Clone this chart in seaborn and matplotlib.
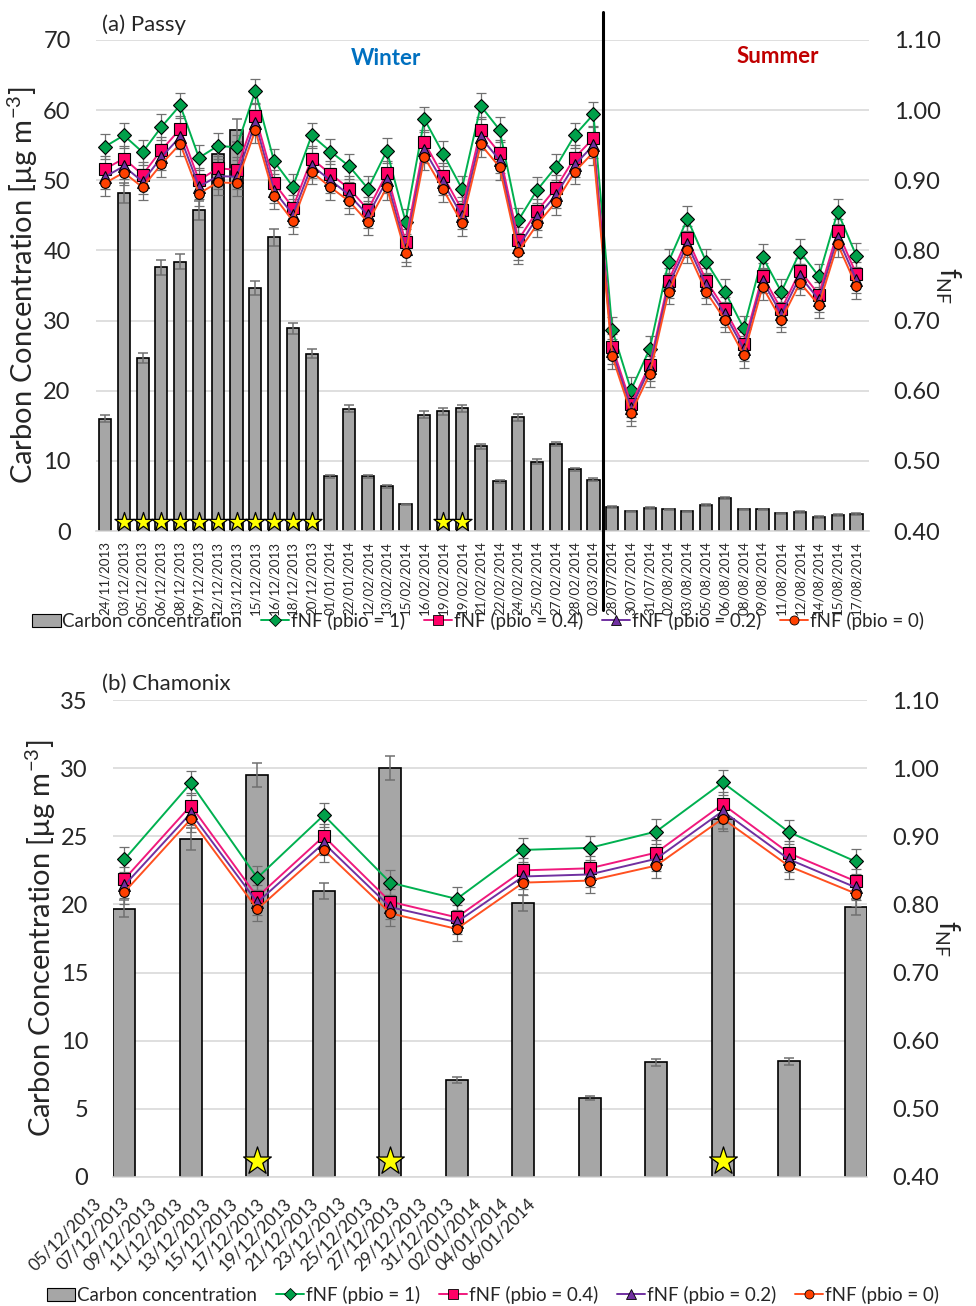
import numpy as np
import matplotlib
matplotlib.use("Agg")
import matplotlib.pyplot as plt
import matplotlib.transforms as mtransforms
import seaborn as sns
from matplotlib.lines import Line2D
from matplotlib.patches import Patch

# ---------------- data: (a) Passy ----------------
passy_dates = ["24/11/2013", "03/12/2013", "05/12/2013", "06/12/2013", "08/12/2013", "09/12/2013",
               "12/12/2013", "13/12/2013", "15/12/2013", "16/12/2013", "18/12/2013", "20/12/2013",
               "01/01/2014", "22/01/2014", "12/02/2014", "13/02/2014", "15/02/2014", "16/02/2014",
               "19/02/2014", "19/02/2014", "21/02/2014", "22/02/2014", "24/02/2014", "25/02/2014",
               "27/02/2014", "28/02/2014", "02/03/2014",
               "28/07/2014", "30/07/2014", "31/07/2014", "02/08/2014", "03/08/2014", "05/08/2014",
               "06/08/2014", "08/08/2014", "09/08/2014", "11/08/2014", "12/08/2014", "14/08/2014",
               "15/08/2014", "17/08/2014"]
passy_carbon = [16.0, 48.2, 24.7, 37.6, 38.4, 45.7, 53.7, 57.1, 34.6, 41.9, 28.9, 25.3, 7.8, 17.4,
                7.8, 6.4, 3.8, 16.6, 17.1, 17.5, 12.1, 7.1, 16.2, 9.9, 12.4, 8.8, 7.3,
                3.4, 2.8, 3.3, 3.1, 2.8, 3.7, 4.7, 3.1, 3.1, 2.5, 2.7, 2.0, 2.3, 2.4]
passy_carbon_err = [0.5, 1.4, 0.7, 1.1, 1.1, 1.3, 1.5, 1.6, 1.0, 1.2, 0.8, 0.7, 0.2, 0.5, 0.2, 0.2,
                    0.1, 0.5, 0.5, 0.5, 0.35, 0.2, 0.45, 0.3, 0.35, 0.25, 0.2,
                    0.1, 0.1, 0.1, 0.1, 0.1, 0.1, 0.15, 0.1, 0.1, 0.1, 0.1, 0.1, 0.1, 0.1]
passy_f1 = [0.948, 0.964, 0.940, 0.976, 1.007, 0.932, 0.949, 0.947, 1.027, 0.927, 0.891, 0.964,
            0.941, 0.920, 0.888, 0.942, 0.841, 0.987, 0.938, 0.888, 1.006, 0.972, 0.843, 0.886,
            0.919, 0.964, 0.994,
            0.687, 0.601, 0.660, 0.784, 0.845, 0.784, 0.741, 0.689, 0.791, 0.741, 0.798, 0.763,
            0.855, 0.792]
passy_f04 = [0.916, 0.931, 0.908, 0.943, 0.973, 0.900, 0.917, 0.915, 0.992, 0.896, 0.861, 0.931,
             0.909, 0.888, 0.858, 0.910, 0.812, 0.954, 0.906, 0.858, 0.972, 0.939, 0.815, 0.856,
             0.889, 0.932, 0.960,
             0.663, 0.581, 0.637, 0.757, 0.817, 0.757, 0.716, 0.666, 0.764, 0.716, 0.771, 0.737,
             0.827, 0.766]
passy_f02 = [0.905, 0.920, 0.898, 0.933, 0.962, 0.891, 0.906, 0.905, 0.982, 0.885, 0.851, 0.921,
             0.900, 0.879, 0.850, 0.900, 0.802, 0.943, 0.897, 0.849, 0.961, 0.929, 0.805, 0.847,
             0.879, 0.922, 0.950,
             0.656, 0.575, 0.632, 0.750, 0.809, 0.750, 0.709, 0.660, 0.757, 0.709, 0.763, 0.730,
             0.818, 0.758]
passy_f0 = [0.896, 0.911, 0.890, 0.923, 0.952, 0.881, 0.897, 0.896, 0.971, 0.877, 0.842, 0.912,
            0.890, 0.870, 0.840, 0.890, 0.796, 0.933, 0.887, 0.839, 0.951, 0.919, 0.798, 0.837,
            0.869, 0.912, 0.940,
            0.649, 0.568, 0.624, 0.741, 0.800, 0.741, 0.701, 0.651, 0.748, 0.701, 0.754, 0.722,
            0.809, 0.749]
passy_star = [1, 2, 3, 4, 5, 6, 7, 8, 9, 10, 11, 18, 19]
passy_n_winter = 27

# ---------------- data: (b) Chamonix ----------------
cham_labels = ["05/12/2013", "07/12/2013", "09/12/2013", "11/12/2013", "13/12/2013", "15/12/2013",
               "17/12/2013", "19/12/2013", "21/12/2013", "23/12/2013", "25/12/2013", "27/12/2013",
               "29/12/2013", "31/12/2013", "02/01/2014", "04/01/2014", "06/01/2014"]
cham_carbon = [19.7, 24.8, 29.5, 21.0, 30.0, 7.1, 20.1, 5.8, 8.4, 26.3, 8.5, 19.8]
cham_carbon_err = [0.6, 0.8, 0.9, 0.6, 0.9, 0.2, 0.6, 0.15, 0.25, 0.8, 0.25, 0.6]
cham_f1 = [0.866, 0.978, 0.839, 0.931, 0.832, 0.808, 0.880, 0.883, 0.907, 0.979, 0.906, 0.863]
cham_f04 = [0.837, 0.945, 0.811, 0.900, 0.804, 0.781, 0.850, 0.853, 0.876, 0.947, 0.875, 0.834]
cham_f02 = [0.828, 0.934, 0.803, 0.890, 0.796, 0.774, 0.841, 0.844, 0.867, 0.937, 0.866, 0.825]
cham_f0 = [0.818, 0.925, 0.793, 0.880, 0.787, 0.764, 0.832, 0.835, 0.857, 0.926, 0.856, 0.816]
cham_star = [2, 4, 9]

f_err = 0.018

series_names = ["fNF (pbio = 1)", "fNF (pbio = 0.4)", "fNF (pbio = 0.2)", "fNF (pbio = 0)"]
line_colors = ["#00b050", "#f0197d", "#7030a0", "#ff5020"]
face_colors = ["#00a04a", "#ff0066", "#7030a0", "#ff4000"]
markers = ["D", "s", "^", "o"]
msizes = [7.5, 8, 8.5, 7]

sns.set_theme(style="white")
FONT = ["Lato", "DejaVu Sans"]
plt.rcParams["font.family"] = FONT
plt.rcParams["mathtext.fontset"] = "custom"
plt.rcParams["mathtext.rm"] = "Lato"

fig = plt.figure(figsize=(9.76, 13.06), dpi=100)
ax_a = fig.add_axes([0.098, 0.5934, 0.792, 0.376])
ax_b = fig.add_axes([0.1158, 0.0988, 0.7725, 0.3652])

GRID = "#d9d9d9"
ERR = "#707070"


def draw_panel(ax, carbon, carbon_err, fs, stars, bar_w, ymax, ystep, star_size, star_y):
    x = np.arange(len(carbon))
    sns.barplot(x=x, y=carbon, ax=ax, native_scale=True, color="#a6a6a6", saturation=1,
                edgecolor="black", linewidth=1.2, width=bar_w, errorbar=None, zorder=2)
    ax.errorbar(x, carbon, yerr=carbon_err, fmt="none", ecolor=ERR, elinewidth=1.1,
                capsize=3.5, capthick=1.1, zorder=3)
    ax.scatter([x[i] for i in stars], [star_y] * len(stars), marker="*", s=star_size,
               color="#ffff00", edgecolors="black", linewidths=0.9, zorder=4, clip_on=False)
    ax.set_ylim(0, ymax)
    ax.set_yticks(np.arange(0, ymax + 0.1, ystep))
    ax.yaxis.grid(True, color=GRID, linewidth=1.2)
    ax.set_axisbelow(True)
    for s in ["top", "left", "right"]:
        ax.spines[s].set_visible(False)
    ax.spines["bottom"].set_color(GRID)
    ax.spines["bottom"].set_linewidth(1.2)
    ax.tick_params(axis="y", length=0, pad=18, labelsize=17)
    ax.tick_params(axis="x", length=0)
    ax.set_xlabel("")

    ax2 = ax.twinx()
    for vals in fs:
        ax2.errorbar(x, vals, yerr=f_err, fmt="none", ecolor=ERR, elinewidth=0.9,
                     capsize=3.5, capthick=0.9, zorder=1)
    for vals, lc, fc, mk, ms in zip(fs, line_colors, face_colors, markers, msizes):
        sns.lineplot(x=x, y=vals, ax=ax2, color=lc, linewidth=1.4, marker=mk, markersize=ms,
                     markerfacecolor=fc, markeredgecolor="black", markeredgewidth=0.8,
                     legend=False, zorder=3)
    ax2.set_ylim(0.4, 1.1)
    ax2.set_yticks(np.arange(0.4, 1.101, 0.1))
    ax2.set_yticklabels([f"{v:.2f}" for v in np.arange(0.4, 1.101, 0.1)])
    ax2.tick_params(axis="y", length=0, pad=18, labelsize=17)
    for s in ["top", "left", "right", "bottom"]:
        ax2.spines[s].set_visible(False)
    ax2.set_ylabel(r"$\mathregular{f_{NF}}$", rotation=270, fontsize=20, labelpad=16)
    ax.set_ylabel(r"Carbon Concentration [μg m$^{\mathregular{-3}}$]", fontsize=21, labelpad=2)
    return ax2


fs_a = [passy_f1, passy_f04, passy_f02, passy_f0]
fs_b = [cham_f1, cham_f04, cham_f02, cham_f0]

# ---- panel (a)
ax2a = draw_panel(ax_a, passy_carbon, passy_carbon_err, fs_a, passy_star, 0.65, 70, 10, 210, 1.3)
ax_a.set_xticks(np.arange(len(passy_dates)))
ax_a.set_xticklabels(passy_dates, rotation=90, fontsize=9.6, va="top", ha="center")
ax_a.tick_params(axis="x", pad=7)
ax_a.set_xlim(-0.5, 40.65)
ax2a.set_xlim(-0.5, 40.65)

# ---- panel (b)
ax2b = draw_panel(ax_b, cham_carbon, cham_carbon_err, fs_b, cham_star, 0.33, 35, 5, 440, 1.2)
label_shift = 0.3   # ticks placed inside the axis, labels shifted back left
tick_pos = -0.38 + label_shift + 0.4075 * np.arange(len(cham_labels))
ax_b.set_xticks(tick_pos)
ax_b.set_xticklabels(cham_labels, rotation=45, ha="right", va="center",
                     rotation_mode="anchor", fontsize=12.3)
ax_b.tick_params(axis="x", pad=17)
ax_b.set_xlim(-0.17, 11.17)
ax2b.set_xlim(-0.17, 11.17)
px_per_unit = 0.7725 * 976 / 11.34
offset = mtransforms.ScaledTranslation(-label_shift * px_per_unit / 100, 0, fig.dpi_scale_trans)
for lbl in ax_b.get_xticklabels():
    lbl.set_transform(lbl.get_transform() + offset)

# winter / summer separator
sep = passy_n_winter - 0.5
ax2a.axvline(sep, ymin=-0.16, ymax=1.057, color="black", linewidth=2.2, clip_on=False, zorder=6)

fig.text(0.104, 0.981, "(a) Passy", fontsize=16, ha="left", va="center")
fig.text(0.395, 0.955, "Winter", fontsize=16, fontweight="bold", color="#0070c0",
         ha="center", va="center")
fig.text(0.797, 0.957, "Summer", fontsize=16, fontweight="bold", color="#c00000",
         ha="center", va="center")
fig.text(0.105, 0.476, "(b) Chamonix", fontsize=16, ha="left", va="center")

# legends
handles = [Patch(facecolor="#a6a6a6", edgecolor="black", linewidth=0.8)]
for lc, fc, mk in zip(line_colors, face_colors, markers):
    handles.append(Line2D([], [], color=lc, linewidth=1.4, marker=mk, markersize=6.5,
                          markerfacecolor=fc, markeredgecolor="black", markeredgewidth=0.6))
labels = ["Carbon concentration"] + series_names
for y, xc in [(0.5245, 0.49), (0.0085, 0.505)]:
    fig.legend(handles, labels, loc="center", bbox_to_anchor=(xc, y), ncol=5, frameon=False,
               fontsize=13.5, handlelength=1.5, handletextpad=0.1, columnspacing=1.0,
               borderaxespad=0)

fig.savefig("out.png", dpi=100)
